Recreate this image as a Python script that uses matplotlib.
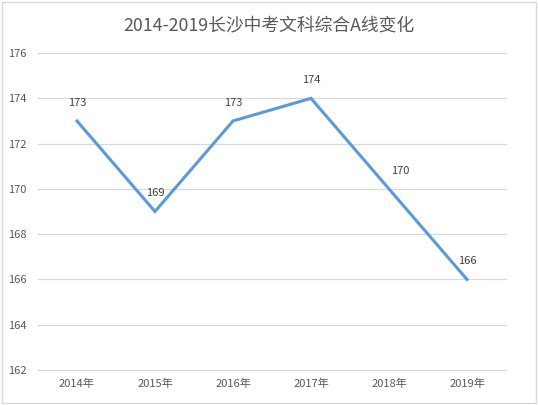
import matplotlib.pyplot as plt
from matplotlib.patches import Rectangle

plt.rcParams['font.family'] = ['Noto Sans CJK SC', 'DejaVu Sans']

years = ['2014年', '2015年', '2016年', '2017年', '2018年', '2019年']
scores = [173, 169, 173, 174, 170, 166]
label_dx = [0, 0, 0, 0, 8, 0]

fig = plt.figure(figsize=(5.38, 4.05), dpi=100)
ax = fig.add_axes([0.0706, 0.0864, 0.8699, 0.7826])

x = range(len(years))
ax.plot(x, scores, color='#5B9BD5', lw=2.2, solid_joinstyle='miter', zorder=3)
for i, v in enumerate(scores):
    ax.annotate(str(v), (i, v), xytext=(label_dx[i], 13), textcoords='offset points',
                ha='center', va='center', fontsize=8, color='#404040')

ax.set_xlim(-0.5, len(years) - 0.5)
ax.set_ylim(162, 176)
ax.set_yticks(range(162, 177, 2))
ax.set_xticks(list(x))
ax.set_xticklabels(years)
ax.yaxis.grid(True, color='#D9D9D9', lw=0.9)
for gl in ax.get_ygridlines():
    gl.set_clip_on(False)
ax.set_axisbelow(True)
for s in ax.spines.values():
    s.set_visible(False)
ax.tick_params(length=0, labelsize=8, colors='#595959', pad=6)
ax.tick_params(axis='y', pad=8)

fig.text(0.5, 0.937, '2014-2019长沙中考文科综合A线变化', ha='center', va='center',
         fontsize=12.8, color='#595959')

fig.patches.append(Rectangle((0.004, 0.004), 0.992, 0.99, transform=fig.transFigure,
                             fill=False, edgecolor='#D9D9D9', lw=1))

fig.savefig('out.png', dpi=100)
